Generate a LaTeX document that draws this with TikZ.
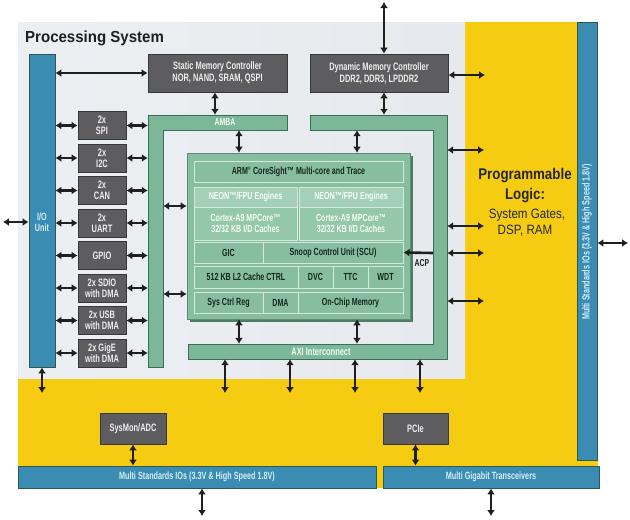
\documentclass[tikz,border=0pt]{standalone}
\usepackage{fontspec}
\setmainfont{Liberation Sans}
\newfontfamily\cnd[FakeStretch=0.69]{Liberation Sans}
\newfontfamily\ttl[FakeStretch=0.94]{Liberation Sans}
\newfontfamily\plf[FakeStretch=0.86]{Liberation Sans}
\usetikzlibrary{arrows.meta,calc}
\definecolor{ylw}{HTML}{F5CC12}
\definecolor{gfill}{HTML}{5D5D5F}
\definecolor{gbord}{HTML}{38383A}
\definecolor{bfill}{HTML}{3A8CB3}
\definecolor{bbord}{HTML}{2C5A52}
\definecolor{btext}{HTML}{D6EEF7}
\definecolor{grn}{HTML}{7CB798}
\definecolor{grnb}{HTML}{3F6C57}
\definecolor{corefill}{HTML}{86BE9F}
\definecolor{coreS}{HTML}{4E7C65}
\definecolor{cellB}{HTML}{D2E9DB}
\definecolor{neon}{HTML}{A4D0B7}
\definecolor{ctx}{HTML}{95C7AA}
\definecolor{dtext}{HTML}{17261E}
\definecolor{pA}{HTML}{DCE2E7}
\definecolor{pB}{HTML}{EEF1F4}
\definecolor{pC}{HTML}{E5E9ED}
\definecolor{pD}{HTML}{BAC4CD}
\pgfdeclarehorizontalshading{panel}{100bp}{color(0bp)=(pA); color(8bp)=(pB); color(80bp)=(pC); color(100bp)=(pD)}
\tikzset{
  arr/.style={{Latex[length=6pt,width=8pt]}-{Latex[length=6pt,width=8pt]}, line width=2.6pt, draw=black!88},
  arrone/.style={-{Latex[length=6pt,width=8pt]}, line width=2.6pt, draw=black!88},
  graybox/.style={rectangle, draw=gbord, line width=0.8pt, fill=gfill, text=white!93!black, font=\cnd\bfseries\fontsize{10.8}{12}\selectfont, align=center, inner sep=0pt},
  pbox/.style={graybox, minimum width=48pt, minimum height=28pt, font=\cnd\bfseries\fontsize{10.8}{11}\selectfont},
  bluebar/.style={rectangle, draw=bbord, line width=0.8pt, fill=bfill, text=btext, font=\cnd\bfseries\fontsize{10.5}{11}\selectfont, align=center, inner sep=0pt},
  framepart/.style={rectangle, inner sep=0pt},
  framefill/.style={fill=grn, draw=grnb, line width=0.9pt},
  cell/.style={rectangle, draw=cellB, line width=1pt, fill=corefill, text=dtext, font=\cnd\bfseries\fontsize{10.3}{11.5}\selectfont, align=center, inner sep=0pt},
  lcell/.style={cell, text=white!96!green},
  lbl/.style={inner sep=0pt, font=\cnd\bfseries\fontsize{10.5}{11.5}\selectfont, align=center}
}
\begin{document}
\begin{tikzpicture}[x=1pt,y=-1pt]
\useasboundingbox (0,0) rectangle (630,520);
\fill[white] (0,0) rectangle (630,520);
% backgrounds
\fill[ylw] (18,22) rectangle (598,488);
\shade[shading=panel] (18,22) rectangle (465,378);
\node[anchor=base west, inner sep=0pt, text=black!88, font=\ttl\bfseries\fontsize{16}{18}\selectfont] (pstitle) at (25,42) {Processing System};
% programmable logic text
\node[anchor=base, inner sep=0pt, text=black!85, font=\plf\bfseries\fontsize{15.5}{18}\selectfont] (pl1) at (525,179) {Programmable};
\node[anchor=base, inner sep=0pt, text=black!85, font=\plf\bfseries\fontsize{15.5}{18}\selectfont] (pl2) at (525,199) {Logic:};
\node[anchor=base, inner sep=0pt, text=black!85, font=\plf\fontsize{13.5}{16}\selectfont] (pl3) at (527,218) {System Gates,};
\node[anchor=base, inner sep=0pt, text=black!85, font=\plf\fontsize{13.5}{16}\selectfont] (pl4) at (525,234) {DSP, RAM};
% blue bars
\node[bluebar, minimum width=26pt, minimum height=313pt] (io) at (42,210.5) {};
\node[lbl, text=btext] (iolbl) at (42,222) {I/O\\Unit};
\node[bluebar, minimum width=20pt, minimum height=438pt] (rbar) at (587,241) {};
\node[lbl, text=btext, rotate=90] (rbarlbl) at (587,242) {Multi Standards IOs (3.3V \& High Speed 1.8V)};
\node[bluebar, minimum width=358pt, minimum height=22pt] (msio) at (197,477) {Multi Standards IOs (3.3V \& High Speed 1.8V)};
\node[bluebar, minimum width=216pt, minimum height=22pt] (mgt) at (491,477) {Multi Gigabit Transceivers};
% gray boxes
\node[graybox, minimum width=139pt, minimum height=38pt] (smc) at (217.5,73) {Static Memory Controller\\NOR, NAND, SRAM, QSPI};
\node[graybox, minimum width=138pt, minimum height=38pt] (dmc) at (379,73) {Dynamic Memory Controller\\DDR2, DDR3, LPDDR2};
\node[graybox, minimum width=66pt, minimum height=31pt] (sysmon) at (133,428.5) {SysMon/ADC};
\node[graybox, minimum width=65pt, minimum height=31pt] (pcie) at (415.5,428.5) {PCIe};
\foreach \n/\y/\t in {1/125.5/{2x\\SPI}, 2/158/{2x\\I2C}, 3/190.5/{2x\\CAN}, 4/223/{2x\\UART}, 5/255.5/{GPIO}, 6/288/{2x SDIO\\with DMA}, 7/320.5/{2x USB\\with DMA}, 8/353/{2x GigE\\with DMA}}
  {\node[pbox] (p\n) at (102,\y) {\t};}
% green frames
\draw[framefill] (148,115) -- (287,115) -- (287,130) -- (163,130) -- (163,367) -- (148,367) -- cycle;
\draw[framefill] (310,115) -- (447,115) -- (447,359) -- (188,359) -- (188,344) -- (433,344) -- (433,130) -- (310,130) -- cycle;
\node[framepart, minimum width=15pt, minimum height=252pt] (ambaL) at (155.5,241) {};
\node[framepart, minimum width=139pt, minimum height=15pt] (ambaT) at (217.5,122.5) {};
\node[framepart, minimum width=137pt, minimum height=15pt] (hpT) at (378.5,122.5) {};
\node[framepart, minimum width=14pt, minimum height=244pt] (hpR) at (440,237) {};
\node[framepart, minimum width=259pt, minimum height=15pt] (axi) at (317.5,351.5) {};
\node[lbl, text=white!95!green, font=\cnd\bfseries\fontsize{10}{11}\selectfont] (ambalbl) at (225,122.5) {AMBA};
\node[lbl, text=white!95!green, font=\cnd\bfseries\fontsize{10.8}{11}\selectfont] (axilbl) at (321,351.5) {AXI Interconnect};
% core
\fill[coreS] (190,156) rectangle (413,322);
\node[rectangle, fill=corefill, draw=grnb!80, line width=0.6pt, minimum width=223pt, minimum height=166pt, inner sep=0pt] (core) at (298.5,236) {};
\node[cell, minimum width=209pt, minimum height=21pt] (cs) at (298.5,171.5) {ARM\textsuperscript{\tiny ®} CoreSight™ Multi-core and Trace};
\node[lcell, fill=neon, minimum width=103pt, minimum height=20pt] (neon1) at (245.5,197) {NEON™/FPU Engines};
\node[lcell, fill=neon, minimum width=104pt, minimum height=20pt] (neon2) at (351,197) {NEON™/FPU Engines};
\node[lcell, fill=ctx, minimum width=103pt, minimum height=33pt] (ctx1) at (245.5,223.5) {Cortex-A9 MPCore™\\32/32 KB I/D Caches};
\node[lcell, fill=ctx, minimum width=104pt, minimum height=33pt] (ctx2) at (351,223.5) {Cortex-A9 MPCore™\\32/32 KB I/D Caches};
\node[cell, minimum width=69pt, minimum height=21pt] (gic) at (228.5,252.5) {GIC};
\node[cell, minimum width=140pt, minimum height=21pt] (scu) at (333,252.5) {Snoop Control Unit (SCU)};
\node[cell, minimum width=104pt, minimum height=22pt] (l2) at (246,277) {512 KB L2 Cache CTRL};
\node[cell, minimum width=35pt, minimum height=22pt] (dvc) at (315.5,277) {DVC};
\node[cell, minimum width=35pt, minimum height=22pt] (ttc) at (350.5,277) {TTC};
\node[cell, minimum width=35pt, minimum height=22pt] (wdt) at (385.5,277) {WDT};
\node[cell, minimum width=69pt, minimum height=21pt] (scr) at (228.5,302.5) {Sys Ctrl Reg};
\node[cell, minimum width=35pt, minimum height=21pt] (dma) at (280.5,302.5) {DMA};
\node[cell, minimum width=105pt, minimum height=21pt] (ocm) at (350.5,302.5) {On-Chip Memory};
\node[lbl, text=dtext, font=\cnd\bfseries\fontsize{10}{11}\selectfont] (acp) at (422,263) {ACP};
% coordinates
\coordinate (ioOut) at (3,222);
\coordinate (ioDown) at (42,393);
\coordinate (dmcTop) at (384,2);
\coordinate (dmcOut) at (485,75);
\coordinate (smcX) at (215,0);
\coordinate (vA) at (239,0);
\coordinate (vB) at (357,0);
\coordinate (lA) at (0,206);
\coordinate (lB) at (0,294);
\coordinate (acpY) at (0,253);
\coordinate (rOut) at (628,243);
\coordinate (msD) at (202,516);
\coordinate (mgD) at (491,516);
\foreach \i/\y in {1/150,2/226,3/253,4/301} {\coordinate (hpo\i) at (484,\y);}
\foreach \i/\x in {1/225,2/290,3/355,4/420} {\coordinate (axd\i) at (\x,393);}
% arrows
\draw[arr] (ioOut) -- (io.west |- ioOut);
\draw[arr] (io.south) -- (ioDown);
\draw[arr] (io.east |- smc) -- (smc.west);
\draw[arr] (smcX |- smc.south) -- (smcX |- ambaT.north);
\draw[arr] (dmcTop) -- (dmcTop |- dmc.north);
\draw[arr] (dmcTop |- dmc.south) -- (dmcTop |- hpT.north);
\draw[arr] (dmc.east |- dmcOut) -- (dmcOut);
\foreach \n in {1,...,8} {
  \draw[arr] (io.east |- p\n.west) -- (p\n.west);
  \draw[arr] (p\n.east) -- (p\n.east -| ambaL.west);
}
\draw[arr] (ambaL.east |- lA) -- (core.west |- lA);
\draw[arr] (ambaL.east |- lB) -- (core.west |- lB);
\draw[arr] (vA |- ambaT.south) -- (vA |- core.north);
\draw[arr] (vB |- hpT.south) -- (vB |- core.north);
\draw[arr] (vA |- core.south) -- (vA |- axi.north);
\draw[arr] (vB |- core.south) -- (vB |- axi.north);
\foreach \i in {1,...,4} {
  \draw[arr] (axd\i |- axi.south) -- (axd\i);
  \draw[arr] (hpR.east |- hpo\i) -- (hpo\i);
}
\draw[arrone] (hpR.west |- acpY) -- (scu.east);
\draw[arr] (sysmon.south) -- (sysmon.south |- msio.north);
\draw[arr] (pcie.south) -- (pcie.south |- mgt.north);
\draw[arr] (msD |- msio.south) -- (msD);
\draw[arr] (mgD |- mgt.south) -- (mgD);
\draw[arr] (rbar.east |- rOut) -- (rOut);
\end{tikzpicture}
\end{document}
